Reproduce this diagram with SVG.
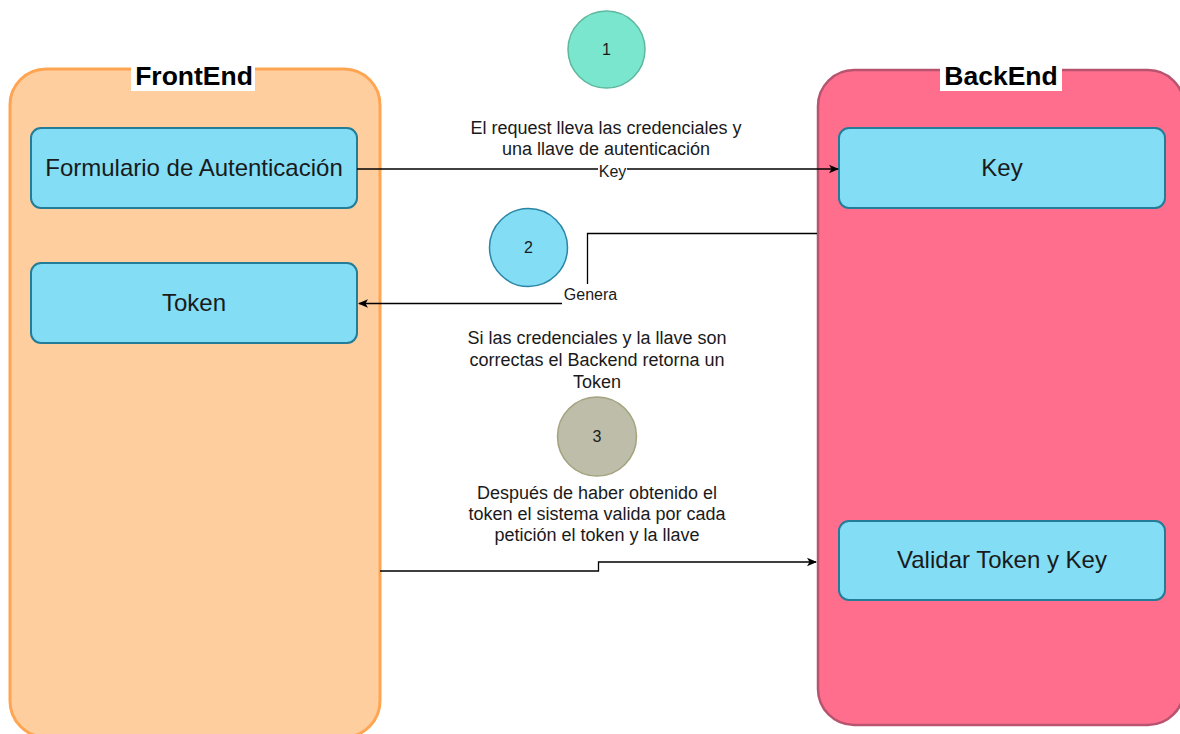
<svg xmlns="http://www.w3.org/2000/svg" width="1180" height="734" viewBox="0 0 1180 734">
<defs>
<style>
.t{font-family:"Liberation Sans",Arial,Helvetica,sans-serif;fill:#1a1a1a;text-anchor:middle}
.title{font-size:26.5px;font-weight:bold;fill:#000}
.node rect{fill:#82DDF5;stroke:#237C98;stroke-width:2}
.nt{font-size:24px}
.desc{font-size:18px}
.lbl{font-size:16px}
.num{font-size:16px}
.edge{fill:none;stroke:#000;stroke-width:1.3}
</style>
<marker id="arr" viewBox="0 0 10 10" refX="9" refY="5" markerWidth="10" markerHeight="10" markerUnits="userSpaceOnUse" orient="auto">
<path d="M0,0.8 L10,5 L0,9.2 L2.5,5 Z" fill="#000"/>
</marker>
</defs>
<rect width="1180" height="734" fill="#fff"/>

<g id="frontend">
<rect x="10" y="69" width="370" height="668" rx="36" fill="#FFCE9F" stroke="#FFA552" stroke-width="3"/>
<rect x="131" y="63" width="124" height="28" fill="#fff"/>
<text class="t title" x="194" y="85">FrontEnd</text>
</g>
<g id="backend">
<rect x="818" y="70" width="366" height="655" rx="36" fill="#FF6F8D" stroke="#B8546F" stroke-width="2.5"/>
<rect x="940" y="63" width="122" height="28" fill="#fff"/>
<text class="t title" x="1001" y="85">BackEnd</text>
</g>

<g id="formulario" class="node">
<rect x="31" y="128" width="326" height="80" rx="10"/>
<text class="t nt" x="194" y="176">Formulario de Autenticación</text>
</g>
<g id="token" class="node">
<rect x="31" y="263" width="326" height="80" rx="10"/>
<text class="t nt" x="194" y="311">Token</text>
</g>
<g id="key" class="node">
<rect x="839" y="128" width="326" height="80" rx="10"/>
<text class="t nt" x="1002" y="176">Key</text>
</g>
<g id="validar" class="node">
<rect x="839" y="521" width="326" height="79" rx="10"/>
<text class="t nt" x="1002" y="568">Validar Token y Key</text>
</g>

<g id="step1">
<circle cx="606.5" cy="49.5" r="38.5" fill="#7AE6CE" stroke="#5DB89D" stroke-width="1.5"/>
<text class="t num" x="606.5" y="55">1</text>
</g>
<g id="step2">
<circle cx="528.5" cy="247.5" r="39" fill="#82DDF5" stroke="#2B86A6" stroke-width="1.5"/>
<text class="t num" x="528.5" y="253">2</text>
</g>
<g id="step3">
<circle cx="597" cy="436.5" r="39.5" fill="#BDBDA9" stroke="#A3A37F" stroke-width="1.5"/>
<text class="t num" x="597" y="442">3</text>
</g>

<g id="text1">
<text class="t desc" x="606" y="133.5">El request lleva las credenciales y</text>
<text class="t desc" x="606" y="154.5">una llave de autenticación</text>
</g>
<g id="text2">
<text class="t desc" x="597" y="343.5">Si las credenciales y la llave son</text>
<text class="t desc" x="597" y="365.5">correctas el Backend retorna un</text>
<text class="t desc" x="597" y="387.5">Token</text>
</g>
<g id="text3">
<text class="t desc" x="597" y="498.5">Después de haber obtenido el</text>
<text class="t desc" x="597" y="519.5">token el sistema valida por cada</text>
<text class="t desc" x="597" y="541">petición el token y la llave</text>
</g>

<g id="connectors">
<path class="edge" d="M357,169 L838,169" marker-end="url(#arr)"/>
<rect x="598" y="161" width="29" height="16" fill="#fff"/>
<text class="t lbl" x="612.5" y="176.5">Key</text>

<path class="edge" d="M817,233.5 L587.5,233.5 L587.5,303.5 L359,303.5" marker-end="url(#arr)"/>
<rect x="562" y="284" width="58" height="21" fill="#fff"/>
<text class="t lbl" x="590.5" y="299.5">Genera</text>

<path class="edge" d="M380,571 L598.5,571 L598.5,562 L816,562" marker-end="url(#arr)"/>
</g>
</svg>
